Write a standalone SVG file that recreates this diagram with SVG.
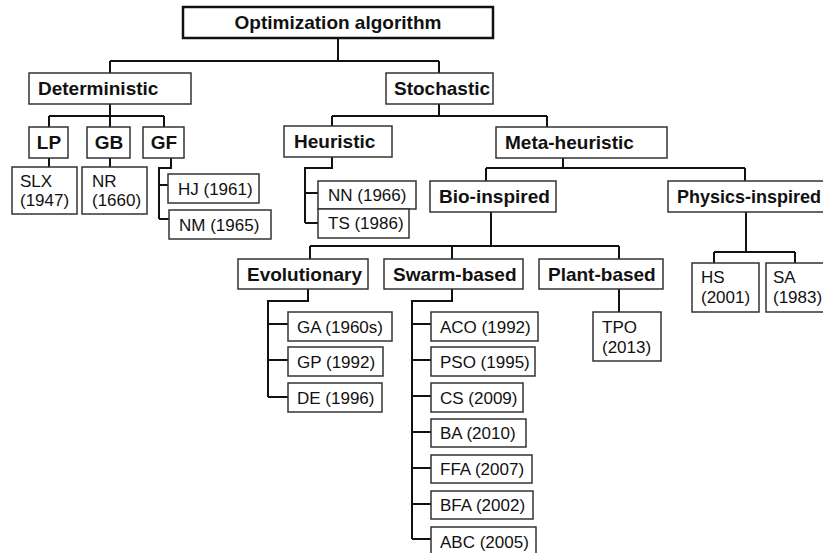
<svg xmlns="http://www.w3.org/2000/svg" width="823" height="553" viewBox="0 0 823 553">
<style>
.bx{fill:#fff;stroke:#333;stroke-width:1.5}
.top{fill:#fff;stroke:#111;stroke-width:2.5}
.b{font-family:"Liberation Sans",Arial,sans-serif;font-weight:bold;font-size:19px;fill:#111}
.r{font-family:"Liberation Sans",Arial,sans-serif;font-size:17px;fill:#111}
.c{fill:none;stroke:#111;stroke-width:2}
</style>
<rect width="823" height="553" fill="#fff"/>
<g id="connectors" class="c">
<path d="M338,38V61M110,61H439M110,61V73M439,61V73"/>
<path d="M110,104V116M49,116H164M49,116V127M110,116V127M164,116V127"/>
<path d="M49,158V167M110,158V167"/>
<path d="M171,158V168H159V219M159,185H168M159,219H169"/>
<path d="M439,104V116M332,116H547M332,116V126M547,116V127"/>
<path d="M332,157V168H305V223M305,193H318M305,223H318"/>
<path d="M563,158V168M486,168H745M486,168V181M745,168V181"/>
<path d="M491,212V246M310,246H619M310,246V259M452,246V259M619,246V259"/>
<path d="M308,289V301H268V397M268,324H288M268,360H288M268,397H288"/>
<path d="M452,289V301H412V539M412,324H431M412,360H431M412,396H431M412,432H431M412,468H431M412,504H431M412,539H431"/>
<path d="M619,289V312"/>
<path d="M746,212V252M714,252H795M714,252V263M795,252V263"/>
</g>
<g id="n-opt"><rect class="top" x="183" y="7" width="310" height="31"/><text class="b" x="338" y="29" text-anchor="middle">Optimization algorithm</text></g>
<g id="n-det"><rect class="bx" x="29" y="73" width="162" height="31"/><text class="b" x="38" y="95">Deterministic</text></g>
<g id="n-sto"><rect class="bx" x="386" y="73" width="107" height="31"/><text class="b" x="394" y="95">Stochastic</text></g>
<g id="n-lp"><rect class="bx" x="29" y="127" width="39" height="31"/><text class="b" x="49" y="149" text-anchor="middle">LP</text></g>
<g id="n-gb"><rect class="bx" x="87" y="127" width="43" height="31"/><text class="b" x="109" y="149" text-anchor="middle">GB</text></g>
<g id="n-gf"><rect class="bx" x="143" y="127" width="41" height="31"/><text class="b" x="164" y="149" text-anchor="middle">GF</text></g>
<g id="n-slx"><rect class="bx" x="12" y="167" width="65" height="47"/><text class="r" x="20" y="187">SLX</text><text class="r" x="20" y="206">(1947)</text></g>
<g id="n-nr"><rect class="bx" x="82" y="167" width="65" height="47"/><text class="r" x="92" y="187">NR</text><text class="r" x="92" y="206">(1660)</text></g>
<g id="n-hj"><rect class="bx" x="168" y="174" width="91" height="29"/><text class="r" x="178" y="195">HJ (1961)</text></g>
<g id="n-nm"><rect class="bx" x="169" y="210" width="102" height="29"/><text class="r" x="179" y="231">NM (1965)</text></g>
<g id="n-heu"><rect class="bx" x="284" y="126" width="108" height="31"/><text class="b" x="294" y="148">Heuristic</text></g>
<g id="n-meta"><rect class="bx" x="496" y="127" width="171" height="31"/><text class="b" x="505" y="149">Meta-heuristic</text></g>
<g id="n-nn"><rect class="bx" x="318" y="181" width="98" height="28"/><text class="r" x="328" y="201">NN (1966)</text></g>
<g id="n-ts"><rect class="bx" x="318" y="209" width="91" height="29"/><text class="r" x="328" y="229">TS (1986)</text></g>
<g id="n-bio"><rect class="bx" x="430" y="181" width="126" height="31"/><text class="b" x="439" y="203">Bio-inspired</text></g>
<g id="n-phy"><rect class="bx" x="668" y="181" width="162" height="31"/><text class="b" x="677" y="203" style="font-size:18px">Physics-inspired</text></g>
<g id="n-evo"><rect class="bx" x="238" y="259" width="130" height="30"/><text class="b" x="247" y="281">Evolutionary</text></g>
<g id="n-swarm"><rect class="bx" x="384" y="259" width="139" height="30"/><text class="b" x="393" y="281">Swarm-based</text></g>
<g id="n-plant"><rect class="bx" x="539" y="259" width="124" height="30"/><text class="b" x="548" y="281">Plant-based</text></g>
<g id="n-hs"><rect class="bx" x="692" y="263" width="67" height="49"/><text class="r" x="701" y="283">HS</text><text class="r" x="701" y="303">(2001)</text></g>
<g id="n-sa"><rect class="bx" x="766" y="263" width="70" height="49"/><text class="r" x="773" y="283">SA</text><text class="r" x="773" y="303">(1983)</text></g>
<g id="n-ga"><rect class="bx" x="288" y="312" width="104" height="29"/><text class="r" x="297" y="333">GA (1960s)</text></g>
<g id="n-gp"><rect class="bx" x="288" y="347" width="95" height="29"/><text class="r" x="297" y="368">GP (1992)</text></g>
<g id="n-de"><rect class="bx" x="288" y="383" width="94" height="29"/><text class="r" x="297" y="404">DE (1996)</text></g>
<g id="n-aco"><rect class="bx" x="431" y="312" width="107" height="29"/><text class="r" x="440" y="333">ACO (1992)</text></g>
<g id="n-pso"><rect class="bx" x="431" y="347" width="104" height="29"/><text class="r" x="440" y="368">PSO (1995)</text></g>
<g id="n-cs"><rect class="bx" x="431" y="383" width="92" height="29"/><text class="r" x="440" y="404">CS (2009)</text></g>
<g id="n-ba"><rect class="bx" x="431" y="419" width="95" height="28"/><text class="r" x="440" y="439">BA (2010)</text></g>
<g id="n-ffa"><rect class="bx" x="431" y="455" width="101" height="28"/><text class="r" x="440" y="475">FFA (2007)</text></g>
<g id="n-bfa"><rect class="bx" x="431" y="491" width="102" height="28"/><text class="r" x="440" y="511">BFA (2002)</text></g>
<g id="n-abc"><rect class="bx" x="431" y="527" width="105" height="30"/><text class="r" x="440" y="548">ABC (2005)</text></g>
<g id="n-tpo"><rect class="bx" x="593" y="312" width="68" height="49"/><text class="r" x="602" y="333">TPO</text><text class="r" x="602" y="353">(2013)</text></g>
</svg>
